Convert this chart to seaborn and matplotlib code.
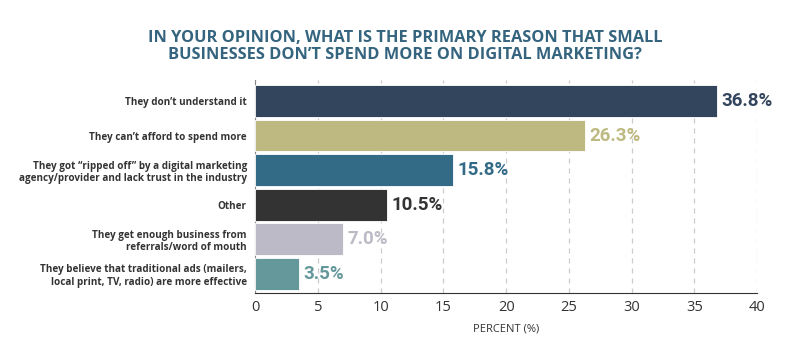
import matplotlib
matplotlib.use("Agg")
import matplotlib.pyplot as plt
import seaborn as sns
import pandas as pd

reasons = [
    "They don\u2019t understand it",
    "They can\u2019t afford to spend more",
    "They got \u201cripped off\u201d by a digital marketing\nagency/provider and lack trust in the industry",
    "Other",
    "They get enough business from\nreferrals/word of mouth",
    "They believe that traditional ads (mailers,\nlocal print, TV, radio) are more effective",
]
percent = [36.8, 26.3, 15.8, 10.5, 7.0, 3.5]
colors = ["#32455c", "#bdb981", "#336b87", "#333333", "#bcbac6", "#65989b"]

df = pd.DataFrame({"reason": reasons, "percent": percent})

sns.set_style("white")
plt.rcParams["font.family"] = ["Open Sans", "DejaVu Sans"]

fig = plt.figure(figsize=(8.1, 3.5), dpi=100)
ax = fig.add_axes([0.315, 0.163, 0.6197, 0.608])

sns.barplot(data=df, x="percent", y="reason", hue="reason", palette=colors,
            saturation=1, legend=False, width=0.92, ax=ax, edgecolor="white",
            linewidth=0.6, zorder=3)

for i, (v, c) in enumerate(zip(percent, colors)):
    ax.text(v + 0.35, i, f"{v:.1f}%", va="center", ha="left", color=c,
            fontsize=13.5, fontweight="bold", family=["Roboto", "DejaVu Sans"])

ax.set_xlim(0, 40)
ax.set_xticks(range(0, 41, 5))
ax.set_ylim(5.55, -0.6)
ax.grid(axis="x", linestyle=(0, (4, 4)), color="#cccccc", linewidth=0.9, zorder=0)
ax.grid(axis="y", visible=False)
for s in ["top", "right"]:
    ax.spines[s].set_visible(False)
ax.spines["left"].set_color("#888888")
ax.spines["bottom"].set_color("#333333")
ax.tick_params(axis="x", direction="in", length=6, color="#333333",
               labelsize=10.5, labelcolor="#333333", pad=5)
ax.tick_params(axis="y", length=0, labelsize=7.1, pad=6)
for lbl in ax.get_yticklabels():
    lbl.set_fontweight("bold")
    lbl.set_color("#333333")
    lbl.set_multialignment("right")
    lbl.set_linespacing(1.15)
ax.set_ylabel("")
ax.set_xlabel("PERCENT (%)", fontsize=8, color="#333333", labelpad=6)

fig.text(0.5, 0.868, "IN YOUR OPINION, WHAT IS THE PRIMARY REASON THAT SMALL\nBUSINESSES DON\u2019T SPEND MORE ON DIGITAL MARKETING?",
         ha="center", va="center", fontsize=11.8, fontweight="bold",
         color="#35647f", linespacing=1.1)

fig.savefig("out.png", dpi=100)
